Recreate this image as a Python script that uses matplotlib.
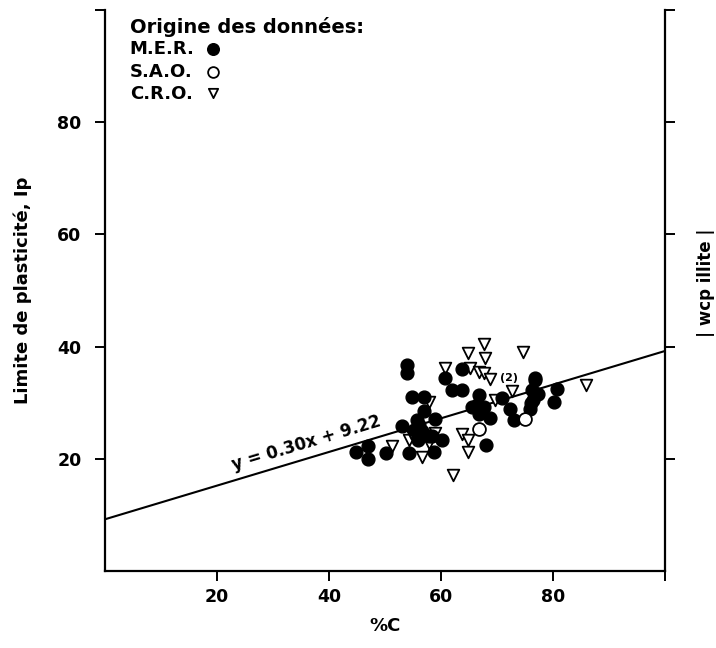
import matplotlib
matplotlib.use("Agg")
import matplotlib.pyplot as plt
import numpy as np

# ---- data ----
mer_x = [44.9, 46.9, 46.9, 50.1, 53.0, 53.9, 53.9, 54.9, 56.9, 55.8, 55.2, 56.6, 57.8,
         55.9, 54.3, 59.0, 60.2, 58.4, 58.7, 60.8, 63.8, 62.0, 63.8, 66.7, 66.4, 65.5,
         67.6, 66.7, 68.8, 68.0, 70.9, 72.4, 73.0, 76.8, 76.2, 76.5, 75.9, 77.4, 76.0,
         80.7, 80.1, 56.0, 57.0, 76.8]
mer_y = [21.3, 22.3, 19.9, 21.0, 25.9, 36.8, 35.3, 31.1, 31.1, 27.0, 25.2, 24.9, 24.0,
         23.4, 21.0, 27.1, 23.4, 24.0, 21.3, 34.4, 36.0, 32.3, 32.3, 31.4, 29.6, 29.3,
         29.3, 27.9, 27.3, 22.5, 30.8, 28.8, 27.0, 34.1, 32.3, 30.5, 28.8, 31.5, 30.0,
         32.4, 30.1, 26.0, 28.5, 34.4]

sao_x = [66.7, 75.0]
sao_y = [25.3, 27.1]

cro_x = [67.7, 64.8, 67.9, 74.6, 60.8, 65.1, 66.7, 67.7, 68.8, 72.7, 69.7, 85.9,
         57.9, 51.2, 54.2, 54.6, 56.6, 57.8, 59.0, 63.8, 64.9, 64.8, 62.2]
cro_y = [40.4, 38.9, 38.0, 39.0, 36.1, 36.1, 35.4, 35.3, 34.2, 32.0, 30.5, 33.2,
         30.2, 22.3, 23.4, 24.6, 20.4, 22.8, 24.6, 24.5, 23.4, 21.3, 17.1]

slope = 0.30
intercept = 9.22

x_ticks = [20, 40, 60, 80]
y_ticks = [20, 40, 60, 80]

# ---- figure ----
W, H = 716, 648
fig = plt.figure(figsize=(W / 100, H / 100), dpi=100)
ax = fig.add_axes([105 / W, (H - 571) / H, 560 / W, 561 / H])
ax.set_xlim(0, 100)
ax.set_ylim(0, 100)

ax.spines["top"].set_visible(False)
for s in ["left", "bottom", "right"]:
    ax.spines[s].set_linewidth(1.6)

ax.set_xticks(x_ticks + [100])
ax.set_xticklabels([str(v) for v in x_ticks] + [""])
ax.set_yticks(y_ticks + [100])
ax.set_yticklabels([str(v) for v in y_ticks] + [""])
ax.tick_params(axis="both", direction="out", length=7, width=1.4, labelsize=12.5)
ax.tick_params(axis="y", right=True, pad=10)
ax.tick_params(axis="x", pad=5)
for lab in ax.get_xticklabels() + ax.get_yticklabels():
    lab.set_fontweight("bold")

# regression line
lx = np.array([0, 100])
ax.plot(lx, slope * lx + intercept, color="black", lw=1.5, zorder=2)
ang = np.degrees(np.arctan(slope * (561 / 100) / (560 / 100)))
ax.text(36.5, slope * 36.5 + intercept + 1.0, "y = 0.30x + 9.22", rotation=ang,
        rotation_mode="anchor", ha="center", va="bottom", fontsize=12,
        fontweight="bold")

# points
ax.scatter(cro_x, cro_y, marker="v", s=70, facecolor="white", edgecolor="black",
           linewidth=1.3, zorder=3)
ax.scatter(mer_x, mer_y, marker="o", s=85, facecolor="black", edgecolor="black",
           zorder=4)
ax.scatter(sao_x, sao_y, marker="o", s=85, facecolor="white", edgecolor="black",
           linewidth=1.3, zorder=5)
ax.text(72.2, 33.6, "(2)", fontsize=8, fontweight="bold", ha="center", va="bottom",
        zorder=6)

# legend (as text + markers)
ax.text(4.4, 97, "Origine des données:", fontsize=14, fontweight="bold",
        ha="left", va="center")
ax.text(4.4, 93, "M.E.R.", fontsize=13, fontweight="bold", ha="left", va="center")
ax.text(4.4, 89, "S.A.O.", fontsize=13, fontweight="bold", ha="left", va="center")
ax.text(4.4, 85, "C.R.O.", fontsize=13, fontweight="bold", ha="left", va="center")
ax.scatter([19.3], [93], marker="o", s=70, facecolor="black", edgecolor="black")
ax.scatter([19.3], [89], marker="o", s=60, facecolor="white", edgecolor="black",
           linewidth=1.3)
ax.scatter([19.3], [85.2], marker="v", s=45, facecolor="white", edgecolor="black",
           linewidth=1.3)

ax.set_xlabel("%C", fontsize=13, fontweight="bold", labelpad=8)
ax.set_ylabel("Limite de plasticité, Ip", fontsize=13, fontweight="bold", labelpad=18)

# cut-off label from neighbouring panel
fig.text(706 / W, 1 - 283 / H, "| wcp illite |", rotation=90, fontsize=12,
         fontweight="bold", ha="center", va="center")

fig.savefig("out.png", dpi=100, facecolor="white")
